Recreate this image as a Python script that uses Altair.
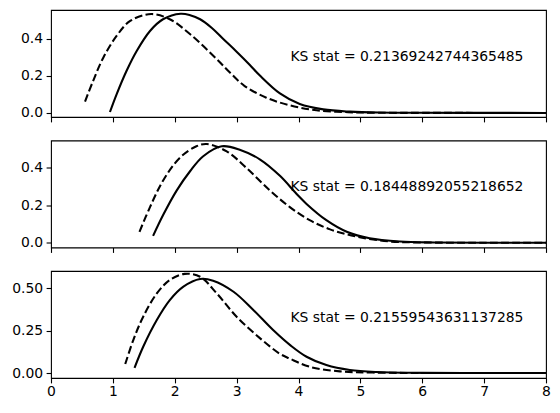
import altair as alt
import pandas as pd

# ---- data ----
ks_labels = [
    "KS stat = 0.21369242744365485",
    "KS stat = 0.18448892055218652",
    "KS stat = 0.21559543631137285",
]

# panel 1
s1_x = [0.953, 1.06, 1.22, 1.385, 1.60, 1.81, 2.095, 2.25, 2.41, 2.6, 2.78, 3.0, 3.21, 3.38, 3.70, 4.02, 4.40, 4.83, 5.3, 6.0, 7.0, 8.0]
s1_y = [0.005, 0.10, 0.226, 0.334, 0.442, 0.505, 0.535, 0.527, 0.505, 0.458, 0.40, 0.33, 0.26, 0.20, 0.105, 0.048, 0.019, 0.007, 0.002, 0.0005, 0.0001, 0.0]
d1_x = [0.55, 0.68, 0.845, 1.06, 1.28, 1.62, 1.92, 2.25, 2.68, 2.90, 3.13, 3.48, 3.86, 4.29, 4.8, 5.3, 6.0, 7.0, 8.0]
d1_y = [0.061, 0.172, 0.298, 0.415, 0.496, 0.533, 0.505, 0.424, 0.29, 0.215, 0.145, 0.082, 0.041, 0.014, 0.004, 0.001, 0.0003, 0.0, 0.0]

# panel 2
s2_x = [1.65, 1.81, 2.03, 2.25, 2.46, 2.76, 3.05, 3.38, 3.70, 3.97, 4.13, 4.45, 4.78, 5.15, 5.64, 6.2, 7.0, 8.0]
s2_y = [0.037, 0.147, 0.279, 0.384, 0.463, 0.516, 0.498, 0.445, 0.358, 0.261, 0.208, 0.121, 0.059, 0.024, 0.007, 0.002, 0.0003, 0.0]
d2_x = [1.43, 1.60, 1.81, 2.08, 2.35, 2.52, 2.84, 3.16, 3.54, 3.86, 4.18, 4.51, 4.94, 5.48, 6.0, 7.0, 8.0]
d2_y = [0.059, 0.191, 0.332, 0.454, 0.516, 0.528, 0.489, 0.40, 0.279, 0.191, 0.121, 0.072, 0.033, 0.007, 0.002, 0.0002, 0.0]

# panel 3
s3_x = [1.35, 1.49, 1.71, 1.92, 2.14, 2.41, 2.62, 2.95, 3.27, 3.59, 3.88, 4.13, 4.45, 4.83, 5.26, 6.0, 7.0, 8.0]
s3_y = [0.031, 0.155, 0.312, 0.429, 0.508, 0.553, 0.543, 0.478, 0.371, 0.253, 0.16, 0.096, 0.047, 0.018, 0.006, 0.001, 0.0, 0.0]
d3_x = [1.20, 1.33, 1.49, 1.71, 1.92, 2.16, 2.41, 2.68, 3.00, 3.38, 3.70, 3.86, 4.18, 4.67, 5.2, 6.0, 7.0, 8.0]
d3_y = [0.053, 0.194, 0.331, 0.468, 0.547, 0.583, 0.566, 0.468, 0.331, 0.204, 0.113, 0.085, 0.037, 0.01, 0.003, 0.0005, 0.0, 0.0]

y_domains = [[-0.022, 0.555], [-0.025, 0.547], [-0.029, 0.600]]
y_ticks = [[0.0, 0.2, 0.4], [0.0, 0.2, 0.4], [0.0, 0.25, 0.5]]
y_formats = [".1f", ".1f", ".2f"]
x_ticks = [0, 1, 2, 3, 4, 5, 6, 7, 8]

panels = [(s1_x, s1_y, d1_x, d1_y), (s2_x, s2_y, d2_x, d2_y), (s3_x, s3_y, d3_x, d3_y)]

FONT = "DejaVu Sans"
FS = 13.9
W, H = 495, 107

charts = []
for i, (sx, sy, dx, dy) in enumerate(panels):
    last = i == len(panels) - 1
    if last:
        xaxis = alt.Axis(values=x_ticks, format="d", labels=True, grid=False, domain=False,
                         ticks=True, tickColor="black", tickSize=4.9, tickWidth=1.1,
                         labelFont=FONT, labelFontSize=FS, labelColor="black", labelPadding=2,
                         labelFlush=False, labelOverlap=False, title=None)
    else:
        xaxis = alt.Axis(values=x_ticks, labels=False, grid=False, domain=False,
                         ticks=True, tickColor="black", tickSize=4.9, tickWidth=1.1,
                         minExtent=5, maxExtent=5, title=None)
    yaxis = alt.Axis(values=y_ticks[i], format=y_formats[i], grid=False, domain=False,
                     tickColor="black", tickSize=4.9, tickWidth=1.1,
                     labelFont=FONT, labelFontSize=FS, labelColor="black", labelPadding=3.5,
                     labelFlush=False, labelOverlap=False,
                     minExtent=40, maxExtent=40, title=None)
    xs = alt.Scale(domain=[0, 8], nice=False, zero=False)
    ys = alt.Scale(domain=y_domains[i], nice=False, zero=False)

    solid = alt.Chart(pd.DataFrame({"x": sx, "y": sy})).mark_line(
        color="black", strokeWidth=2.08, interpolate="catmull-rom"
    ).encode(x=alt.X("x:Q", scale=xs, axis=xaxis), y=alt.Y("y:Q", scale=ys, axis=yaxis))
    dashed = alt.Chart(pd.DataFrame({"x": dx, "y": dy})).mark_line(
        color="black", strokeWidth=2.08, strokeDash=[7.7, 3.3], interpolate="catmull-rom"
    ).encode(x=alt.X("x:Q", scale=xs, axis=xaxis), y=alt.Y("y:Q", scale=ys, axis=yaxis))
    txt = alt.Chart(pd.DataFrame({"t": [ks_labels[i]]})).mark_text(
        align="left", baseline="middle", font=FONT, fontSize=FS, color="black"
    ).encode(x=alt.value(239.5), y=alt.value(46.5), text="t:N")
    charts.append(alt.layer(solid, dashed, txt).properties(width=W, height=H))

chart = alt.vconcat(*charts, spacing=15.5).properties(
    padding={"left": 10, "top": 8, "right": 0, "bottom": 0}
).configure(background="white").configure_view(stroke="black", strokeWidth=1.1)

chart.save("out.html", embed_options={"renderer": "svg", "actions": False})
